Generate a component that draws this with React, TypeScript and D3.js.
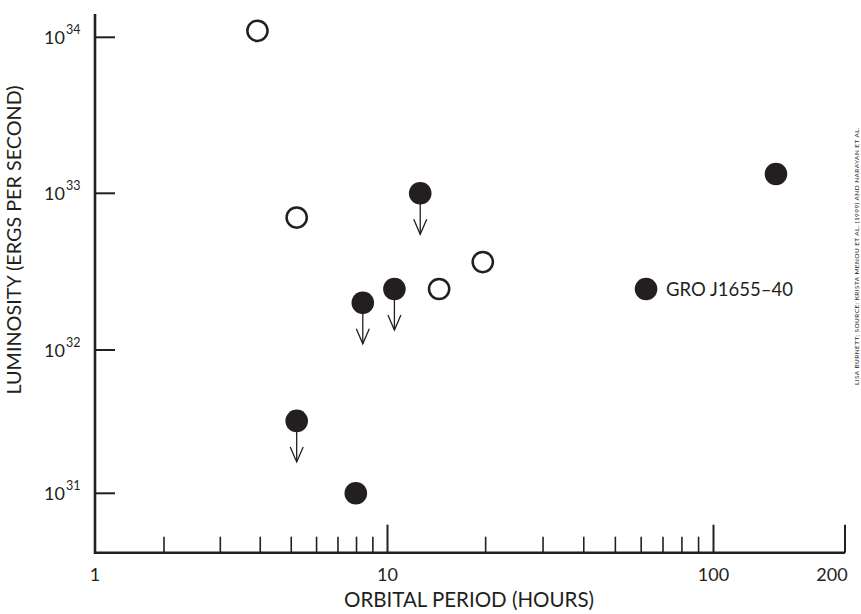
import React from "react";
import * as d3 from "d3";

// Open circles (x = orbital period, hours; y = luminosity, erg/s)
const openPeriods = [3.92, 5.2, 14.4, 19.6];
const openLums = [1.1e34, 7.0e32, 2.45e32, 3.64e32];

// Filled circles
const filledPeriods = [5.2, 8.37, 10.5, 12.6, 7.96, 62.1, 139];
const filledLums = [3.2e31, 2.0e32, 2.45e32, 1.0e33, 1.0e31, 2.45e32, 1.33e33];
const filledUpperLimit = [true, true, true, true, false, false, false];
const filledLabels = ["", "", "", "", "", "GRO J1655\u201340", ""];

const xTickValues = [1, 10, 100, 200];
const xTickLabels = ["1", "10", "100", "200"];
const xMinorTicks = [2, 3, 4, 5, 6, 7, 8, 9, 20, 30, 40, 50, 60, 70, 80, 90];
const yTickValues = [1e31, 1e32, 1e33, 1e34];
const yTickExponents = ["31", "32", "33", "34"];

const xTitle = "ORBITAL PERIOD (HOURS)";
const yTitle = "LUMINOSITY (ERGS PER SECOND)";
const credit = "LISA BURNETT; SOURCE: KRISTA MENOU ET AL. (1999) AND NARAYAN ET AL.";

const W = 861;
const H = 614;
const INK = "#231f20";
const FONT = "Lato, 'Open Sans', sans-serif";

export default function App() {
  const x = d3
    .scaleLog()
    .domain([1, 2, 10, 100, 200])
    .range([95, 164, 387.5, 713.5, 845]);
  const y = d3
    .scaleLog()
    .domain([1e31, 1e32, 1e33, 1e34])
    .range([493.3, 350, 193.3, 37.3]);

  const axisLeft = 95;
  const axisBottom = 552.7;
  const axisTop = 14;
  const axisRight = 845;
  const r = 11.3;

  return (
    <svg
      width={W}
      height={H}
      style={{ position: "absolute", left: 0, top: 0, background: "#fff" }}
      fontFamily={FONT}
    >
      <rect x={0} y={0} width={W} height={H} fill="#fff" />
      {/* axes */}
      <path
        d={`M${axisLeft},${axisTop}V${axisBottom}H${axisRight}`}
        fill="none"
        stroke={INK}
        strokeWidth={2.6}
      />
      {/* y ticks */}
      {yTickValues.map((v, i) => (
        <g key={"yt" + i}>
          <line x1={axisLeft} x2={axisLeft + 20} y1={y(v)} y2={y(v)} stroke={INK} strokeWidth={2} />
          <text x={65} y={y(v) + 7} fontSize={18} fill={INK} textAnchor="end">
            10
          </text>
          <text x={66} y={y(v) - 3} fontSize={12.5} fill={INK}>
            {yTickExponents[i]}
          </text>
        </g>
      ))}
      {/* x ticks */}
      {xMinorTicks.map((v, i) => (
        <line key={"xm" + i} x1={x(v)} x2={x(v)} y1={axisBottom} y2={axisBottom - 16} stroke={INK} strokeWidth={1.6} />
      ))}
      {xTickValues.map((v, i) => (
        <g key={"xt" + i}>
          {i > 0 && (
            <line x1={x(v)} x2={x(v)} y1={axisBottom} y2={axisBottom - 28} stroke={INK} strokeWidth={2} />
          )}
          <text x={i === 3 ? x(v) - 13 : x(v)} y={581} fontSize={18} fill={INK} textAnchor="middle">
            {xTickLabels[i]}
          </text>
        </g>
      ))}
      {/* titles */}
      <text x={469} y={607} fontSize={20.5} fill={INK} textAnchor="middle">
        {xTitle}
      </text>
      <text
        transform={`translate(21,240) rotate(-90)`}
        fontSize={19.8}
        fill={INK}
        textAnchor="middle"
      >
        {yTitle}
      </text>
      {/* open circles */}
      {openPeriods.map((p, i) => (
        <circle key={"o" + i} cx={x(p)} cy={y(openLums[i])} r={r - 1.2} fill="#fff" stroke={INK} strokeWidth={2.5} />
      ))}
      {/* filled circles */}
      {filledPeriods.map((p, i) => {
        const cx = x(p);
        const cy = y(filledLums[i]);
        const tip = cy + 41;
        return (
          <g key={"f" + i}>
            {filledUpperLimit[i] && (
              <g stroke={INK} strokeWidth={1.3} fill="none">
                <line x1={cx} x2={cx} y1={cy} y2={tip} />
                <path d={`M${cx - 6.5},${tip - 15}L${cx},${tip}L${cx + 6.5},${tip - 15}`} />
              </g>
            )}
            <circle cx={cx} cy={cy} r={r} fill={INK} />
            {filledLabels[i] && (
              <text x={cx + 20} y={cy + 7} fontSize={18.5} fill={INK}>
                {filledLabels[i]}
              </text>
            )}
          </g>
        );
      })}
      {/* credit */}
      <text
        transform={`translate(859,385) rotate(-90)`}
        fontSize={6.5}
        fill={INK}
        letterSpacing={0.4}
      >
        {credit}
      </text>
    </svg>
  );
}
